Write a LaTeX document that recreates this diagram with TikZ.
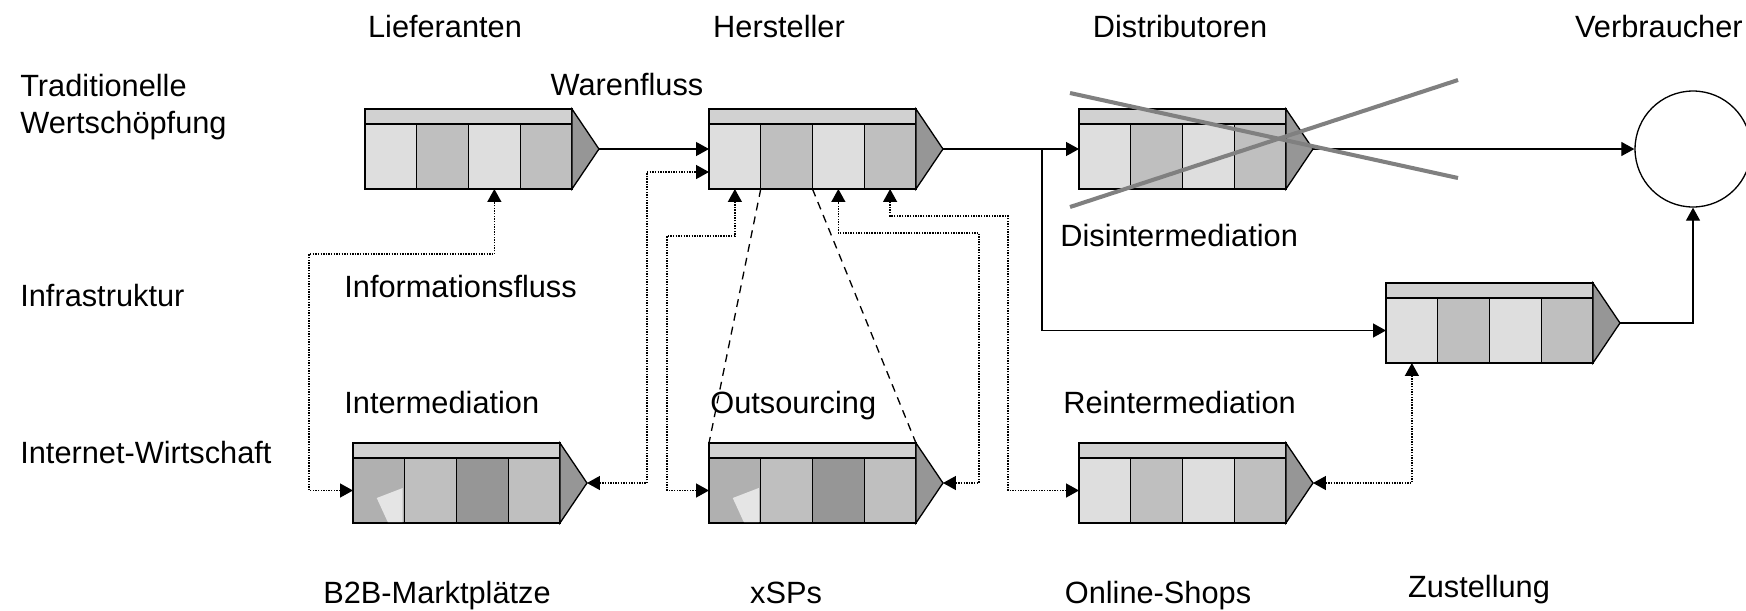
\documentclass[tikz,border=0pt]{standalone}
\usepackage{fontspec}
\setmainfont{Liberation Sans}
\usetikzlibrary{arrows.meta,calc}

\definecolor{cellhead}{gray}{0.82}
\definecolor{celllight}{gray}{0.87}
\definecolor{celldark}{gray}{0.75}
\definecolor{cellmid}{gray}{0.69}
\definecolor{celldeep}{gray}{0.59}
\definecolor{cellpatch}{gray}{0.9}
\definecolor{crossgray}{gray}{0.5}

% one value chain: header strip, four cells and the arrow tip
% #1 name, #2 top left corner, #3-#6 cell fills
\newcommand{\valuechain}[6]{%
  \node[chainhead,anchor=north west] (#1-h) at (#2) {};
  \node[chaincell,fill=#3,anchor=north west] (#1-1) at (#1-h.south west) {};
  \node[chaincell,fill=#4,anchor=north west] (#1-2) at (#1-1.north east) {};
  \node[chaincell,fill=#5,anchor=north west] (#1-3) at (#1-2.north east) {};
  \node[chaincell,fill=#6,anchor=north west] (#1-4) at (#1-3.north east) {};
  \coordinate (#1-tip) at ($(#1-h.north east)!0.5!(#1-4.south east)+(27,0)$);
  \filldraw[chaintip] (#1-h.north east) -- (#1-tip) -- (#1-4.south east) -- cycle;
}

\begin{document}
\begin{tikzpicture}[x=0.02cm,y=-0.02cm,
    every node/.style={font=\fontsize{17.5}{20.5}\selectfont},
    chainhead/.style={draw,line width=0.75pt,fill=cellhead,minimum width=4.14cm,
      minimum height=0.3cm,inner sep=0pt,outer sep=0pt},
    chaincell/.style={draw,line width=0.75pt,minimum width=1.035cm,
      minimum height=1.3cm,inner sep=0pt,outer sep=0pt},
    chaintip/.style={draw=black,fill=celldeep,line width=0.75pt,line join=miter},
    flow/.style={line width=0.7pt,-{Triangle[length=0.26cm,width=0.28cm]}},
    info/.style={line width=0.8pt,dash pattern=on 0.8pt off 0.7pt,
      {Triangle[length=0.26cm,width=0.28cm]}-{Triangle[length=0.26cm,width=0.28cm]}},
    outs/.style={line width=0.75pt,dash pattern=on 4.5pt off 3.5pt},
    cross/.style={line width=2.3pt,crossgray},
    lbl/.style={inner sep=0pt}]
  \useasboundingbox (0,0) rectangle (1746,610);

  % chains
  \valuechain{lief}{365,109}{celllight}{celldark}{celllight}{celldark}
  \valuechain{herst}{709,109}{celllight}{celldark}{celllight}{celldark}
  \valuechain{dist}{1079,109}{celllight}{celldark}{celllight}{celldark}
  \valuechain{zust}{1386,283}{celllight}{celldark}{celllight}{celldark}
  \valuechain{b2b}{353,443}{cellmid}{celldark}{celldeep}{celldark}
  \valuechain{xsp}{709,443}{cellmid}{celldark}{celldeep}{celldark}
  \valuechain{shop}{1079,443}{celllight}{celldark}{celllight}{celldark}
  \foreach \n in {b2b,xsp}
    \fill[cellpatch] ([shift={(-28,-25)}]\n-1.south east) -- ++(26,-10) -- ++(0,34) -- ++(-15,0) -- cycle;

  \node[draw,circle,line width=0.75pt,minimum size=2.32cm,inner sep=0pt] (verb) at (1693,149) {};

  % goods flow
  \draw[flow] (lief-tip) -- (lief-tip -| herst-1.west);
  \draw[flow] (herst-tip) -- (herst-tip -| dist-1.west);
  \path (herst-tip) ++(99,0) coordinate (split);
  \draw[flow] (split) |- (zust-1.west);
  \draw[flow] (dist-tip) -- (dist-tip -| verb.west);
  \draw[flow] (zust-tip) -| (verb.south);

  % information flow
  \draw[info] (b2b-1.west) -| (309,254) -| (lief-3.south);
  \coordinate (b2bup) at (647,172);
  \draw[info] (b2b-tip) -| (b2bup) -- (b2bup -| herst-1.west);
  \draw[info] (xsp-1.west) -| (667,236) -| (herst-1.south);
  \draw[info] (xsp-tip) -| (979,233) -| (herst-3.south);
  \draw[info] (shop-1.west) -| (1008,216) -| (herst-4.south);
  \draw[info] (shop-tip) -| (zust-1.south);

  % outsourcing
  \draw[outs] (herst-1.south east) -- (xsp-h.north west);
  \draw[outs] (herst-2.south east) -- (xsp-h.north east);

  % distributors crossed out
  \draw[cross] (1070,93) -- (1458,178);
  \draw[cross] (1070,207) -- (1458,80);

  % labels
  \node[lbl,anchor=base] (tlief) at (445,37) {Lieferanten};
  \node[lbl,anchor=base] (therst) at (779,37) {Hersteller};
  \node[lbl,anchor=base] (tdist) at (1180,37) {Distributoren};
  \node[lbl,anchor=base east] (tverb) at (1743,37) {Verbraucher};
  \node[lbl,anchor=base west,align=left] (ttrad) at (20,133) {Traditionelle\\Wertschöpfung};
  \node[lbl,anchor=base] (tware) at (627,95) {Warenfluss};
  \node[lbl,anchor=base west] (tinfra) at (20,306) {Infrastruktur};
  \node[lbl,anchor=base west] (tinfo) at (344,297) {Informationsfluss};
  \node[lbl,anchor=base west] (tdisi) at (1060,246) {Disintermediation};
  \node[lbl,anchor=base west] (tinter) at (344,413) {Intermediation};
  \node[lbl,anchor=base west] (touts) at (710,413) {Outsourcing};
  \node[lbl,anchor=base west] (treint) at (1063,413) {Reintermediation};
  \node[lbl,anchor=base west] (tnet) at (20,463) {Internet-Wirtschaft};
  \node[lbl,anchor=base] (tb2b) at (437,603) {B2B-Marktplätze};
  \node[lbl,anchor=base] (txsp) at (786,603) {xSPs};
  \node[lbl,anchor=base] (tshop) at (1158,603) {Online-Shops};
  \node[lbl,anchor=base] (tzust) at (1479,597) {Zustellung};
\end{tikzpicture}
\end{document}
